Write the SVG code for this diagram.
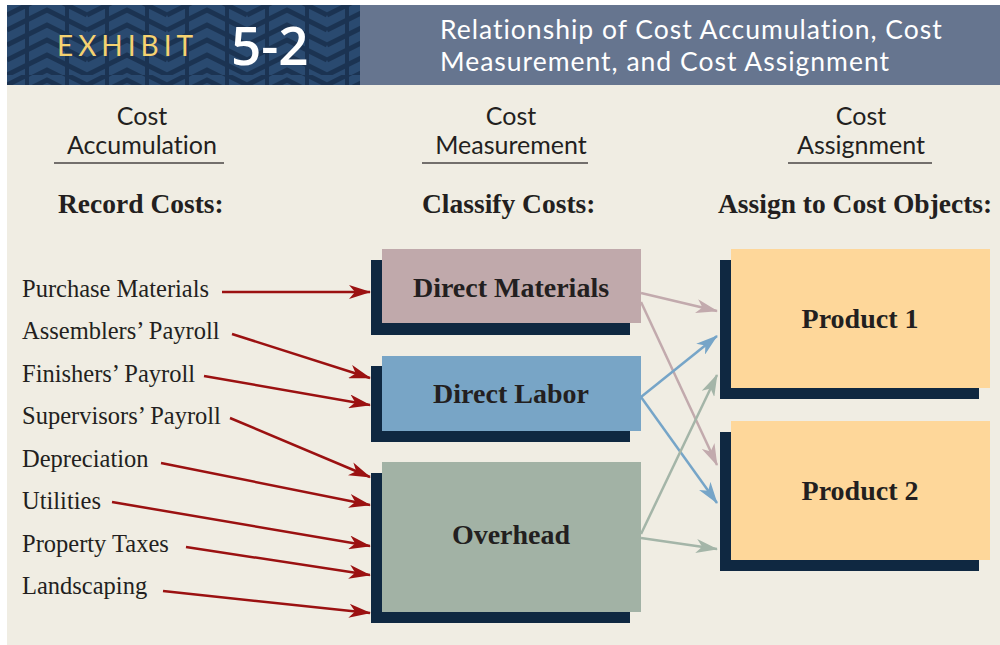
<svg xmlns="http://www.w3.org/2000/svg" width="1000" height="645" viewBox="0 0 1000 645">
<defs>
<style>
.hdr{font-family:Lato,"Open Sans",sans-serif;fill:#231f20;font-size:25px;text-anchor:middle;font-variant-ligatures:none}
.ttl{font-family:Lato,"Open Sans",sans-serif;fill:#ffffff;font-size:26.5px;letter-spacing:1px;font-variant-ligatures:none}
.sub{font-family:"Liberation Serif",serif;font-weight:bold;fill:#231f20;font-size:27.5px}
.lbl{font-family:"Liberation Serif",serif;fill:#231f20;font-size:24.5px}
.box{font-family:"Liberation Serif",serif;font-weight:bold;fill:#231f20;font-size:28px;text-anchor:middle}
.shadow{fill:#0f2841}
.red{stroke:#9b1111;stroke-width:2.5;fill:none;marker-end:url(#mRed)}
.pink{stroke:#c2aaad;stroke-width:2.5;fill:none;marker-end:url(#mPink)}
.blue{stroke:#76a5c8;stroke-width:2.5;fill:none;marker-end:url(#mBlue)}
.green{stroke:#a4b5a8;stroke-width:2.5;fill:none;marker-end:url(#mGreen)}
</style>
<marker id="mRed" markerUnits="userSpaceOnUse" markerWidth="22" markerHeight="14" viewBox="0 0 22 14" refX="21" refY="7" orient="auto"><path d="M0,0 L22,7 L0,14 L6,7 Z" fill="#9b1111"/></marker>
<marker id="mPink" markerUnits="userSpaceOnUse" markerWidth="22" markerHeight="14" viewBox="0 0 22 14" refX="21" refY="7" orient="auto"><path d="M0,0 L22,7 L0,14 L6,7 Z" fill="#c2aaad"/></marker>
<marker id="mBlue" markerUnits="userSpaceOnUse" markerWidth="22" markerHeight="14" viewBox="0 0 22 14" refX="21" refY="7" orient="auto"><path d="M0,0 L22,7 L0,14 L6,7 Z" fill="#76a5c8"/></marker>
<marker id="mGreen" markerUnits="userSpaceOnUse" markerWidth="22" markerHeight="14" viewBox="0 0 22 14" refX="21" refY="7" orient="auto"><path d="M0,0 L22,7 L0,14 L6,7 Z" fill="#a4b5a8"/></marker>
<pattern id="maze" patternUnits="userSpaceOnUse" width="80" height="70" x="7" y="5">
<rect width="80" height="70" fill="#2a4a70"/>
<path d="M0,10 L40,-10 L80,10 M0,25 L40,5 L80,25 M0,40 L40,20 L80,40 M0,55 L40,35 L80,55 M0,70 L40,50 L80,70 M0,85 L40,65 L80,85" stroke="#1b3352" stroke-width="5" fill="none"/>
<path d="M20,0 L20,70 M60,0 L60,70" stroke="#1b3352" stroke-width="4" fill="none"/>
</pattern>
</defs>
<rect x="0" y="0" width="1000" height="645" fill="#ffffff"/>
<rect x="7" y="85" width="993" height="560" fill="#f0ede3"/>
<rect x="7" y="5" width="353" height="80" fill="url(#maze)"/>
<rect x="360" y="5" width="640" height="80" fill="#66758f"/>
<text x="57" y="56" font-family="Lato,'Open Sans',sans-serif" font-size="28" fill="#f5d271" letter-spacing="5">EXHIBIT</text>
<text x="231" y="65" font-family="'Open Sans',Lato,sans-serif" font-size="53" font-weight="600" fill="#ffffff">5-2</text>
<text class="ttl" x="440" y="39">Relationship of Cost Accumulation, Cost</text>
<text class="ttl" x="440" y="71">Measurement, and Cost Assignment</text>

<g id="col-headers">
<text class="hdr" x="142" y="125">Cost</text>
<text class="hdr" x="142" y="154">Accumulation</text>
<line x1="54" y1="163" x2="224" y2="163" stroke="#4a4444" stroke-width="1.5"/>
<text class="hdr" x="511" y="125">Cost</text>
<text class="hdr" x="511" y="154">Measurement</text>
<line x1="422" y1="163" x2="588" y2="163" stroke="#4a4444" stroke-width="1.5"/>
<text class="hdr" x="861" y="125">Cost</text>
<text class="hdr" x="861" y="154">Assignment</text>
<line x1="788" y1="163" x2="932" y2="163" stroke="#4a4444" stroke-width="1.5"/>
<text class="sub" x="58" y="213">Record Costs:</text>
<text class="sub" x="422" y="213">Classify Costs:</text>
<text class="sub" x="718" y="213">Assign to Cost Objects:</text>
</g>

<g id="sources">
<text class="lbl" x="22" y="297">Purchase Materials</text>
<text class="lbl" x="22" y="339">Assemblers’ Payroll</text>
<text class="lbl" x="22" y="382">Finishers’ Payroll</text>
<text class="lbl" x="22" y="424">Supervisors’ Payroll</text>
<text class="lbl" x="22" y="467">Depreciation</text>
<text class="lbl" x="22" y="509">Utilities</text>
<text class="lbl" x="22" y="552">Property Taxes</text>
<text class="lbl" x="22" y="594">Landscaping</text>
</g>

<g id="node-dm">
<rect class="shadow" x="371" y="260" width="259" height="75"/>
<rect x="382" y="249" width="259" height="74" fill="#c0a9ab"/>
<text class="box" x="511" y="297">Direct Materials</text>
</g>
<g id="node-dl">
<rect class="shadow" x="371" y="366" width="259" height="76"/>
<rect x="382" y="356" width="259" height="75" fill="#78a5c6"/>
<text class="box" x="511" y="403">Direct Labor</text>
</g>
<g id="node-oh">
<rect class="shadow" x="371" y="473" width="259" height="150"/>
<rect x="382" y="462" width="259" height="150" fill="#a2b2a5"/>
<text class="box" x="511" y="544">Overhead</text>
</g>
<g id="node-p1">
<rect class="shadow" x="720" y="260" width="259" height="139"/>
<rect x="731" y="249" width="259" height="139" fill="#fed79a"/>
<text class="box" x="860" y="328">Product 1</text>
</g>
<g id="node-p2">
<rect class="shadow" x="720" y="432" width="259" height="139"/>
<rect x="731" y="421" width="259" height="139" fill="#fed79a"/>
<text class="box" x="860" y="500">Product 2</text>
</g>

<g id="connectors">
<line class="red" x1="222" y1="292" x2="370" y2="292"/>
<line class="red" x1="232" y1="334" x2="370" y2="378"/>
<line class="red" x1="204" y1="376" x2="370" y2="405"/>
<line class="red" x1="230" y1="418" x2="370" y2="477"/>
<line class="red" x1="161" y1="463" x2="370" y2="505"/>
<line class="red" x1="112" y1="502" x2="370" y2="546"/>
<line class="red" x1="186" y1="547" x2="370" y2="575"/>
<line class="red" x1="163" y1="591" x2="370" y2="613"/>
<line class="pink" x1="641" y1="293" x2="717" y2="311"/>
<line class="pink" x1="641" y1="302" x2="717" y2="465"/>
<line class="blue" x1="641" y1="397" x2="717" y2="336"/>
<line class="blue" x1="641" y1="397" x2="717" y2="503"/>
<line class="green" x1="641" y1="534" x2="717" y2="375"/>
<line class="green" x1="641" y1="538" x2="717" y2="549"/>
</g>
</svg>
